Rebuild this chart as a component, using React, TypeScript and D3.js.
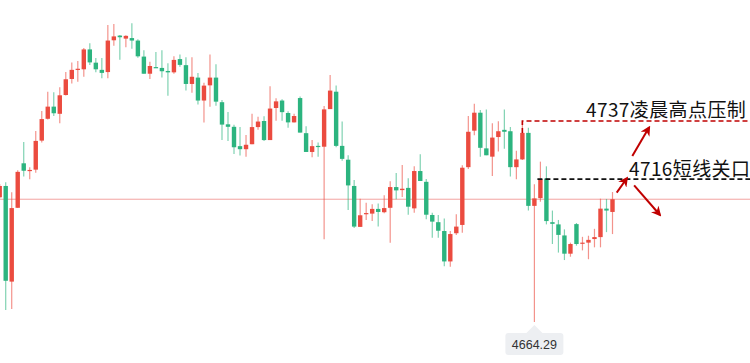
import React from "react";
import * as d3 from "d3";

// OHLC, one entry per candle (red = up, green = down)
const opens = [
  4709.4, 4713.5, 4678.9, 4705.6, 4721.7, 4718.9, 4719.4, 4729.9, 4737.8, 4742.2,
  4739.6, 4746.4, 4752.2, 4755.6, 4755.7, 4762.9, 4758.1, 4755.5, 4754.7, 4766.2,
  4767.9, 4766.8, 4767.0, 4766.1, 4760.3, 4754.1, 4756.5, 4756.2, 4755.1, 4754.6,
  4759.4, 4757.2, 4750.4, 4752.7, 4744.4, 4749.9, 4752.7, 4743.8, 4735.8, 4734.9,
  4727.9, 4726.8, 4728.6, 4734.8, 4737.0, 4730.1, 4741.7, 4744.4, 4739.9, 4736.5,
  4745.3, 4732.6, 4725.8, 4728.0, 4727.7, 4741.3, 4747.6, 4728.0, 4723.0, 4713.5,
  4698.7, 4703.3, 4703.5, 4705.2, 4704.0, 4705.6, 4713.1, 4712.0, 4712.8, 4705.4,
  4718.9, 4715.0, 4703.0, 4700.4, 4697.2, 4686.2, 4696.4, 4699.4, 4720.3, 4733.5,
  4740.0, 4727.1, 4724.1, 4731.2, 4733.8, 4733.3, 4720.3, 4723.1, 4732.7, 4706.3,
  4709.1, 4716.2, 4700.4, 4699.6, 4695.6, 4689.0, 4699.7, 4692.6, 4693.0, 4694.3,
  4695.0, 4705.3, 4704.1,
];
const highs = [
  4714.2, 4714.8, 4711.2, 4719.2, 4729.4, 4720.3, 4733.4, 4740.6, 4747.6, 4747.4,
  4749.2, 4754.7, 4758.2, 4758.7, 4763.4, 4765.1, 4759.8, 4759.8, 4771.7, 4772.1,
  4768.1, 4768.0, 4772.4, 4766.6, 4762.6, 4758.4, 4762.0, 4762.6, 4757.9, 4760.4,
  4761.1, 4760.1, 4760.1, 4754.4, 4750.8, 4761.1, 4757.5, 4744.6, 4740.3, 4735.6,
  4734.8, 4731.9, 4739.6, 4738.5, 4738.7, 4749.6, 4745.2, 4744.9, 4740.5, 4739.6,
  4745.9, 4735.1, 4730.1, 4729.2, 4742.4, 4753.6, 4749.8, 4736.8, 4724.6, 4715.7,
  4708.9, 4707.4, 4706.9, 4707.2, 4710.1, 4715.2, 4718.2, 4721.1, 4716.3, 4720.6,
  4725.0, 4716.0, 4703.8, 4703.0, 4701.7, 4697.2, 4703.3, 4721.0, 4738.8, 4743.2,
  4741.0, 4741.2, 4736.2, 4736.9, 4741.2, 4734.8, 4726.2, 4737.0, 4734.6, 4714.1,
  4722.3, 4720.6, 4704.6, 4701.2, 4697.8, 4693.0, 4700.1, 4695.1, 4695.5, 4698.0,
  4708.9, 4708.8, 4711.3,
];
const lows = [
  4709.1, 4668.6, 4669.0, 4705.5, 4716.9, 4715.9, 4718.3, 4729.2, 4737.5, 4738.8,
  4736.2, 4746.2, 4750.6, 4751.2, 4753.0, 4757.3, 4754.6, 4752.5, 4752.5, 4764.2,
  4759.2, 4763.7, 4763.1, 4759.9, 4754.1, 4752.2, 4756.2, 4752.7, 4746.1, 4754.1,
  4756.6, 4748.0, 4747.2, 4743.0, 4736.5, 4742.2, 4742.5, 4730.1, 4729.8, 4725.1,
  4724.5, 4724.1, 4728.6, 4733.8, 4729.8, 4730.1, 4737.1, 4737.1, 4734.6, 4736.5,
  4732.8, 4725.8, 4723.9, 4724.1, 4694.2, 4741.3, 4727.5, 4722.6, 4704.8, 4698.3,
  4698.7, 4701.2, 4700.8, 4698.8, 4703.6, 4693.0, 4708.7, 4709.5, 4703.1, 4703.8,
  4715.3, 4701.5, 4694.8, 4694.8, 4684.5, 4684.3, 4695.8, 4696.6, 4719.6, 4731.8,
  4724.1, 4724.6, 4717.1, 4726.0, 4727.0, 4716.9, 4715.9, 4722.9, 4704.6, 4664.29,
  4707.8, 4699.6, 4692.5, 4689.4, 4686.7, 4687.9, 4691.9, 4690.2, 4687.0, 4691.3,
  4691.3, 4696.8, 4696.1,
];
const closes = [
  4713.5, 4679.2, 4705.5, 4718.6, 4719.0, 4719.3, 4729.8, 4737.7, 4742.2, 4739.8,
  4746.3, 4752.1, 4755.5, 4755.9, 4762.9, 4758.2, 4755.7, 4754.4, 4766.1, 4767.6,
  4767.3, 4767.8, 4766.1, 4760.4, 4754.1, 4756.9, 4756.2, 4755.0, 4754.6, 4759.1,
  4757.3, 4750.4, 4753.0, 4744.4, 4749.8, 4752.7, 4744.0, 4735.7, 4734.9, 4727.5,
  4726.8, 4728.4, 4734.8, 4736.8, 4730.1, 4741.5, 4744.1, 4740.2, 4736.5, 4738.8,
  4732.8, 4725.8, 4727.9, 4727.6, 4741.2, 4748.0, 4728.0, 4723.3, 4713.7, 4698.8,
  4702.9, 4703.7, 4705.2, 4704.1, 4705.5, 4713.1, 4711.9, 4712.5, 4706.0, 4718.9,
  4715.3, 4703.1, 4700.6, 4697.3, 4686.2, 4696.1, 4698.8, 4720.1, 4733.1, 4740.0,
  4727.3, 4724.6, 4731.0, 4733.3, 4733.1, 4720.3, 4723.1, 4732.7, 4706.3, 4709.0,
  4716.0, 4700.8, 4699.8, 4695.8, 4689.0, 4692.5, 4692.5, 4693.0, 4694.0, 4695.0,
  4705.3, 4704.6, 4708.7,
];

const resistance = 4737;
const resistanceLabel = "4737凌晨高点压制";
const pivot = 4716;
const pivotLabel = "4716短线关口";
const lowLabel = "4664.29";
const lowValue = 4664.29;
const lastPrice = closes[closes.length - 1];

// arrows in [index, price] space
const arrows = [
  { from: [105.3, 4724.3], to: [108.1, 4734.7] },
  { from: [102.7, 4711.1], to: [104.4, 4716.3] },
  { from: [105.6, 4713.7], to: [109.9, 4703.0] },
];

const W = 750;
const H = 363;
const UP = "#eb4b3f";
const DOWN = "#2cb47f";
const ANNO = "#c00000";

export default function App() {
  const n = closes.length;
  const x = d3.scaleLinear().domain([0, n - 1]).range([-0.3, 612.5]);
  const y = d3.scaleLinear().domain([lowValue, resistance]).range([322, 121]);
  const bw = 4.4;

  const lowIdx = lows.indexOf(lowValue);
  const resIdx = highs.findIndex((h, i) => i > 85 && h === resistance);
  const pivIdx = closes.findIndex((c, i) => i > 85 && c === pivot);

  const lx = x(lowIdx);
  const boxW = 58;
  const boxTop = y(lowValue) + 11;

  return (
    <svg
      width={W}
      height={H}
      style={{ position: "absolute", left: 0, top: 0, background: "#fff" }}
    >
      <defs>
        <marker
          id="ah"
          viewBox="0 0 10 10"
          refX="8"
          refY="5"
          markerWidth="5"
          markerHeight="5"
          orient="auto"
        >
          <path d="M0,0 L10,5 L0,10 L3,5 Z" fill={ANNO} />
        </marker>
      </defs>

      {/* last price line */}
      <line x1={0} x2={W} y1={y(lastPrice)} y2={y(lastPrice)} stroke="#f3a3a0" strokeWidth={1} />

      {opens.map((o, i) => {
        const c = closes[i];
        const up = c >= o;
        const col = up ? UP : DOWN;
        const top = y(Math.max(o, c));
        const bot = y(Math.min(o, c));
        return (
          <g key={i}>
            <line
              x1={x(i)}
              x2={x(i)}
              y1={y(highs[i])}
              y2={y(lows[i])}
              stroke={col}
              strokeOpacity={0.6}
              strokeWidth={1.2}
            />
            <rect
              x={x(i) - bw / 2}
              y={top}
              width={bw}
              height={Math.max(1.2, bot - top)}
              fill={col}
            />
          </g>
        );
      })}

      {/* resistance */}
      <path
        d={`M${x(resIdx)},${y(closes[resIdx])} V${y(resistance)} H${W}`}
        fill="none"
        stroke={ANNO}
        strokeWidth={1.6}
        strokeDasharray="5,3"
      />
      <text
        x={586}
        y={y(resistance) - 4}
        fontFamily="'Noto Sans CJK SC', 'Noto Sans', sans-serif"
        fontSize={19}
        fill="#111"
        letterSpacing={0.4}
      >
        {resistanceLabel}
      </text>

      {/* pivot */}
      <line
        x1={x(pivIdx) - 3}
        x2={W}
        y1={y(pivot)}
        y2={y(pivot)}
        stroke="#111"
        strokeWidth={1.8}
        strokeDasharray="5,3"
      />
      <text
        x={629}
        y={y(pivot) - 3}
        fontFamily="'Noto Sans CJK SC', 'Noto Sans', sans-serif"
        fontSize={19}
        fill="#111"
        letterSpacing={0.4}
      >
        {pivotLabel}
      </text>

      {arrows.map((a, i) => (
        <line
          key={i}
          x1={x(a.from[0])}
          y1={y(a.from[1])}
          x2={x(a.to[0])}
          y2={y(a.to[1])}
          stroke={ANNO}
          strokeWidth={2}
          markerEnd="url(#ah)"
        />
      ))}

      {/* low tooltip */}
      <path
        d={`M${lx - boxW / 2 + 3},${boxTop} H${lx - 8} L${lx},${boxTop - 8} L${lx + 8},${boxTop} H${lx + boxW / 2 - 3} Q${lx + boxW / 2},${boxTop} ${lx + boxW / 2},${boxTop + 3} V${boxTop + 19} Q${lx + boxW / 2},${boxTop + 22} ${lx + boxW / 2 - 3},${boxTop + 22} H${lx - boxW / 2 + 3} Q${lx - boxW / 2},${boxTop + 22} ${lx - boxW / 2},${boxTop + 19} V${boxTop + 3} Q${lx - boxW / 2},${boxTop} ${lx - boxW / 2 + 3},${boxTop} Z`}
        fill="#edeff2"
      />
      <text
        x={lx}
        y={boxTop + 16}
        textAnchor="middle"
        fontFamily="'Liberation Sans', Arial, sans-serif"
        fontSize={12.5}
        fill="#333"
      >
        {lowLabel}
      </text>
    </svg>
  );
}
